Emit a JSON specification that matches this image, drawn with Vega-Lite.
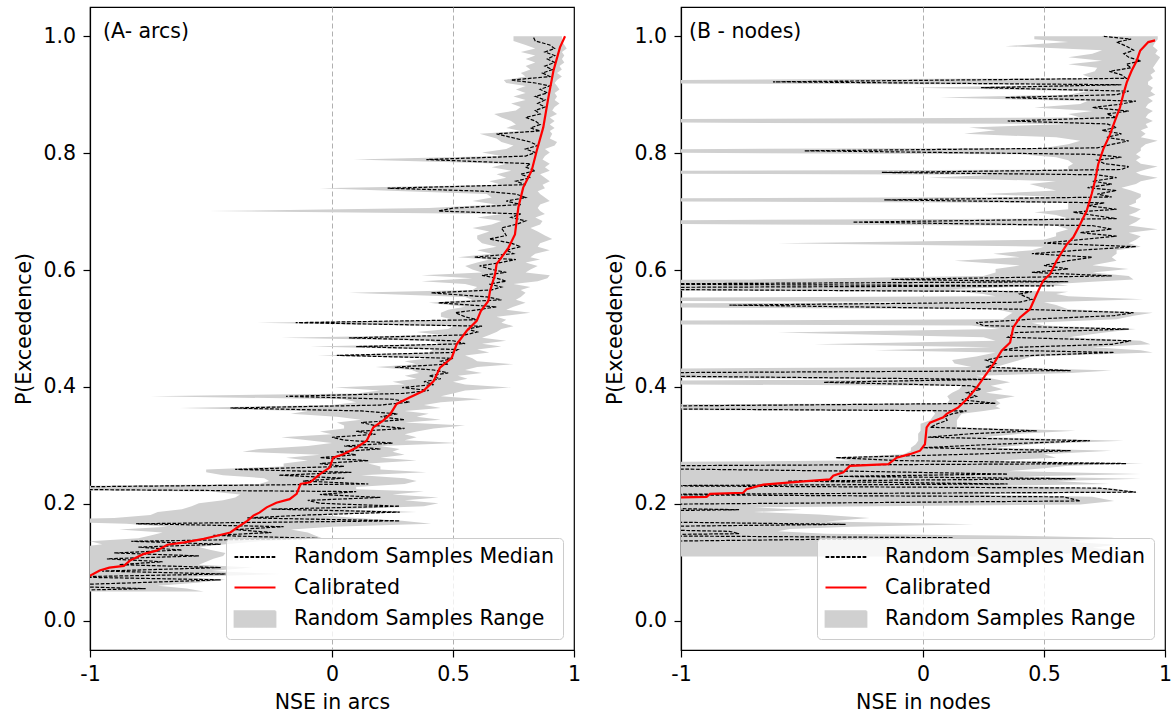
{
  "$schema": "https://vega.github.io/schema/vega-lite/v6.json",
  "padding": {"left": 13, "top": 6, "right": 0, "bottom": 0},
  "bounds": "flush",
  "spacing": 107,
  "datasets": {
    "aCal": [
      {"p":0.070,"c":-1.08},{"p":0.077,"c":-1.0},{"p":0.086,"c":-0.96},{"p":0.091,"c":-0.92},{"p":0.094,"c":-0.86},{"p":0.103,"c":-0.835},{"p":0.114,"c":-0.78},{"p":0.120,"c":-0.725},{"p":0.130,"c":-0.68},{"p":0.134,"c":-0.61},{"p":0.140,"c":-0.53},{"p":0.145,"c":-0.48},{"p":0.151,"c":-0.42},{"p":0.160,"c":-0.39},{"p":0.171,"c":-0.35},{"p":0.180,"c":-0.325},{"p":0.185,"c":-0.30},{"p":0.194,"c":-0.27},{"p":0.202,"c":-0.23},{"p":0.208,"c":-0.175},{"p":0.217,"c":-0.146},{"p":0.234,"c":-0.13},{"p":0.237,"c":-0.09},{"p":0.251,"c":-0.05},{"p":0.262,"c":-0.01},{"p":0.279,"c":0.005},{"p":0.285,"c":0.047},{"p":0.296,"c":0.10},{"p":0.308,"c":0.143},{"p":0.331,"c":0.171},{"p":0.342,"c":0.21},{"p":0.353,"c":0.24},{"p":0.371,"c":0.267},{"p":0.382,"c":0.32},{"p":0.393,"c":0.377},{"p":0.410,"c":0.42},{"p":0.433,"c":0.446},{"p":0.450,"c":0.495},{"p":0.473,"c":0.515},{"p":0.496,"c":0.557},{"p":0.513,"c":0.598},{"p":0.530,"c":0.615},{"p":0.547,"c":0.646},{"p":0.564,"c":0.653},{"p":0.593,"c":0.674},{"p":0.610,"c":0.68},{"p":0.638,"c":0.729},{"p":0.661,"c":0.756},{"p":0.707,"c":0.77},{"p":0.741,"c":0.79},{"p":0.770,"c":0.825},{"p":0.804,"c":0.846},{"p":0.844,"c":0.873},{"p":0.895,"c":0.894},{"p":0.941,"c":0.915},{"p":0.981,"c":0.942},{"p":1.0,"c":0.963}
    ],
    "aBand": [
      {"p":0.050,"m":-1.3,"l":-2.0,"h":-0.53},{"p":0.055,"m":-0.77,"l":-2.0,"h":-0.6},{"p":0.060,"m":-1.2,"l":-2.0,"h":-0.72},{"p":0.065,"m":-0.82,"l":-2.0,"h":-0.56},{"p":0.070,"m":-0.46,"l":-2.0,"h":-0.44},{"p":0.075,"m":-1.1,"l":-1.8,"h":-0.6},{"p":0.080,"m":-0.44,"l":-1.6,"h":-0.21},{"p":0.085,"m":-0.95,"l":-1.5,"h":-0.5},{"p":0.091,"m":-0.46,"l":-1.4,"h":-0.33},{"p":0.096,"m":-0.88,"l":-1.4,"h":-0.55},
      {"p":0.101,"m":-0.7,"l":-1.3,"h":-0.52},{"p":0.106,"m":-0.93,"l":-1.2,"h":-0.49},{"p":0.111,"m":-0.55,"l":-1.1,"h":-0.45},{"p":0.116,"m":-0.9,"l":-1.2,"h":-0.44},{"p":0.121,"m":-0.62,"l":-1.0,"h":-0.5},{"p":0.126,"m":-0.8,"l":-1.05,"h":-0.55},{"p":0.131,"m":-0.46,"l":-0.95,"h":-0.44},{"p":0.136,"m":-0.83,"l":-1.0,"h":-0.3},{"p":0.141,"m":-0.06,"l":-0.8,"h":-0.04},{"p":0.146,"m":-0.49,"l":-0.75,"h":-0.07},
      {"p":0.151,"m":-0.25,"l":-0.7,"h":-0.1},{"p":0.156,"m":-0.4,"l":-0.88,"h":-0.17},{"p":0.161,"m":-0.2,"l":-0.68,"h":0.0},{"p":0.166,"m":-0.81,"l":-0.85,"h":0.41},{"p":0.171,"m":0.28,"l":-1.3,"h":0.29},{"p":0.176,"m":-0.35,"l":-0.9,"h":0.1},{"p":0.181,"m":-0.1,"l":-0.75,"h":-0.05},{"p":0.186,"m":0.28,"l":-0.72,"h":0.35},{"p":0.191,"m":-0.25,"l":-0.62,"h":0.05},{"p":0.196,"m":0.28,"l":-0.58,"h":0.38},
      {"p":0.201,"m":-0.05,"l":-0.55,"h":0.44},{"p":0.206,"m":-0.1,"l":-0.45,"h":0.3},{"p":0.211,"m":0.2,"l":-0.4,"h":0.44},{"p":0.216,"m":-0.05,"l":-0.38,"h":0.25},{"p":0.221,"m":0.1,"l":-0.5,"h":0.38},{"p":0.225,"m":-1.2,"l":-1.5,"h":0.1},{"p":0.229,"m":-1.1,"l":-1.4,"h":0.1},{"p":0.234,"m":0.15,"l":-0.3,"h":0.3},{"p":0.239,"m":-0.12,"l":-0.26,"h":0.35},{"p":0.244,"m":0.05,"l":-0.28,"h":0.3},
      {"p":0.249,"m":-0.22,"l":-0.45,"h":0.12},{"p":0.254,"m":0.08,"l":-0.52,"h":0.39},{"p":0.259,"m":-0.4,"l":-0.52,"h":0.2},{"p":0.264,"m":0.05,"l":-0.2,"h":0.2},{"p":0.269,"m":-0.05,"l":-0.2,"h":0.15},{"p":0.274,"m":0.15,"l":-0.1,"h":0.35},{"p":0.279,"m":-0.05,"l":-0.19,"h":0.2},{"p":0.284,"m":0.1,"l":-0.05,"h":0.3},{"p":0.289,"m":0.02,"l":-0.37,"h":0.25},{"p":0.294,"m":0.2,"l":-0.3,"h":0.28},
      {"p":0.299,"m":0.05,"l":-0.1,"h":0.2},{"p":0.304,"m":0.25,"l":0.0,"h":0.52},{"p":0.309,"m":0.05,"l":-0.1,"h":0.3},{"p":0.314,"m":0.0,"l":-0.21,"h":0.35},{"p":0.319,"m":0.18,"l":0.0,"h":0.3},{"p":0.324,"m":0.1,"l":-0.05,"h":0.35},{"p":0.329,"m":0.3,"l":0.05,"h":0.42},{"p":0.334,"m":0.18,"l":0.05,"h":0.55},{"p":0.339,"m":0.12,"l":0.02,"h":0.3},{"p":0.344,"m":0.3,"l":0.12,"h":0.45},
      {"p":0.349,"m":0.2,"l":0.02,"h":0.35},{"p":0.354,"m":0.27,"l":-0.17,"h":0.4},{"p":0.359,"m":0.12,"l":-0.1,"h":0.3},{"p":0.364,"m":-0.42,"l":-0.63,"h":0.45},{"p":0.369,"m":0.2,"l":0.0,"h":0.38},{"p":0.374,"m":0.32,"l":0.1,"h":0.45},{"p":0.379,"m":0.25,"l":0.05,"h":0.62},{"p":0.384,"m":-0.19,"l":-0.75,"h":0.45},{"p":0.389,"m":0.3,"l":0.1,"h":0.5},{"p":0.394,"m":0.4,"l":0.2,"h":0.55},
      {"p":0.399,"m":0.29,"l":0.01,"h":0.74},{"p":0.404,"m":0.42,"l":0.3,"h":0.55},{"p":0.409,"m":0.38,"l":0.25,"h":0.5},{"p":0.414,"m":0.45,"l":0.35,"h":0.56},{"p":0.419,"m":0.4,"l":0.3,"h":0.52},{"p":0.424,"m":0.48,"l":0.36,"h":0.62},{"p":0.429,"m":0.42,"l":0.33,"h":0.55},{"p":0.434,"m":0.26,"l":0.18,"h":0.6},{"p":0.439,"m":0.48,"l":0.35,"h":0.75},{"p":0.444,"m":0.45,"l":0.3,"h":0.6},
      {"p":0.449,"m":0.5,"l":0.4,"h":0.58},{"p":0.454,"m":0.02,"l":-0.06,"h":0.55},{"p":0.459,"m":0.5,"l":0.4,"h":0.65},{"p":0.464,"m":0.52,"l":0.42,"h":0.6},{"p":0.469,"m":0.1,"l":-0.09,"h":0.7},{"p":0.474,"m":0.55,"l":0.45,"h":0.62},{"p":0.479,"m":0.5,"l":0.4,"h":0.72},{"p":0.484,"m":0.07,"l":-0.21,"h":0.62},{"p":0.489,"m":0.55,"l":0.45,"h":0.65},{"p":0.494,"m":0.6,"l":0.35,"h":0.68},
      {"p":0.499,"m":0.56,"l":0.48,"h":0.7},{"p":0.504,"m":0.62,"l":0.5,"h":0.75},{"p":0.510,"m":-0.15,"l":-0.31,"h":0.7},{"p":0.515,"m":0.6,"l":0.5,"h":0.72},{"p":0.520,"m":0.55,"l":0.45,"h":0.68},{"p":0.527,"m":0.51,"l":0.45,"h":0.82},{"p":0.532,"m":0.6,"l":0.48,"h":0.72},{"p":0.537,"m":0.68,"l":0.55,"h":0.75},{"p":0.544,"m":0.44,"l":0.4,"h":0.8},{"p":0.549,"m":0.7,"l":0.58,"h":0.76},
      {"p":0.554,"m":0.64,"l":0.55,"h":0.78},{"p":0.561,"m":0.41,"l":0.07,"h":0.8},{"p":0.566,"m":0.66,"l":0.58,"h":0.78},{"p":0.571,"m":0.7,"l":0.6,"h":0.82},{"p":0.576,"m":0.65,"l":0.55,"h":0.75},{"p":0.581,"m":0.72,"l":0.37,"h":0.85},{"p":0.586,"m":0.68,"l":0.58,"h":0.89},{"p":0.591,"m":0.62,"l":0.37,"h":0.9},{"p":0.596,"m":0.72,"l":0.62,"h":0.8},{"p":0.601,"m":0.66,"l":0.58,"h":0.82},
      {"p":0.607,"m":0.61,"l":0.55,"h":0.85},{"p":0.613,"m":0.7,"l":0.6,"h":0.8},{"p":0.618,"m":0.76,"l":0.65,"h":0.86},{"p":0.622,"m":0.59,"l":0.52,"h":0.82},{"p":0.628,"m":0.75,"l":0.66,"h":0.84},{"p":0.634,"m":0.72,"l":0.6,"h":0.9},{"p":0.640,"m":0.78,"l":0.68,"h":0.85},{"p":0.646,"m":0.74,"l":0.62,"h":0.86},{"p":0.653,"m":0.65,"l":0.6,"h":0.91},{"p":0.659,"m":0.72,"l":0.6,"h":0.88},
      {"p":0.666,"m":0.71,"l":0.65,"h":0.85},{"p":0.672,"m":0.7,"l":0.58,"h":0.82},{"p":0.678,"m":0.76,"l":0.66,"h":0.86},{"p":0.684,"m":0.8,"l":0.7,"h":0.87},{"p":0.690,"m":0.74,"l":0.6,"h":0.84},{"p":0.696,"m":0.78,"l":0.7,"h":0.88},{"p":0.701,"m":0.44,"l":-0.51,"h":0.86},{"p":0.706,"m":0.5,"l":0.4,"h":0.85},{"p":0.712,"m":0.78,"l":0.68,"h":0.86},{"p":0.718,"m":0.72,"l":0.58,"h":0.9},
      {"p":0.724,"m":0.8,"l":0.66,"h":0.88},{"p":0.730,"m":0.76,"l":0.64,"h":0.86},{"p":0.735,"m":0.62,"l":0.3,"h":0.85},{"p":0.740,"m":0.23,"l":-0.05,"h":0.88},{"p":0.746,"m":0.8,"l":0.7,"h":0.87},{"p":0.752,"m":0.76,"l":0.65,"h":0.9},{"p":0.758,"m":0.82,"l":0.72,"h":0.88},{"p":0.764,"m":0.78,"l":0.68,"h":0.86},{"p":0.770,"m":0.84,"l":0.74,"h":0.9},{"p":0.776,"m":0.8,"l":0.66,"h":0.88},
      {"p":0.782,"m":0.82,"l":0.72,"h":0.9},{"p":0.789,"m":0.39,"l":0.09,"h":0.87},{"p":0.795,"m":0.8,"l":0.7,"h":0.88},{"p":0.801,"m":0.84,"l":0.62,"h":0.9},{"p":0.807,"m":0.8,"l":0.72,"h":0.88},{"p":0.813,"m":0.85,"l":0.75,"h":0.92},{"p":0.819,"m":0.82,"l":0.7,"h":0.93},{"p":0.825,"m":0.76,"l":0.68,"h":0.9},{"p":0.833,"m":0.68,"l":0.61,"h":0.91},{"p":0.838,"m":0.86,"l":0.78,"h":0.9},
      {"p":0.843,"m":0.82,"l":0.72,"h":0.92},{"p":0.849,"m":0.86,"l":0.76,"h":0.9},{"p":0.855,"m":0.84,"l":0.74,"h":0.92},{"p":0.861,"m":0.8,"l":0.7,"h":0.9},{"p":0.867,"m":0.86,"l":0.67,"h":0.93},{"p":0.873,"m":0.84,"l":0.76,"h":0.91},{"p":0.879,"m":0.88,"l":0.78,"h":0.92},{"p":0.885,"m":0.85,"l":0.74,"h":0.94},{"p":0.891,"m":0.88,"l":0.8,"h":0.92},{"p":0.897,"m":0.84,"l":0.75,"h":0.93},
      {"p":0.903,"m":0.89,"l":0.8,"h":0.92},{"p":0.909,"m":0.86,"l":0.76,"h":0.94},{"p":0.915,"m":0.9,"l":0.8,"h":0.93},{"p":0.920,"m":0.84,"l":0.72,"h":0.92},{"p":0.925,"m":0.74,"l":0.71,"h":0.93},{"p":0.931,"m":0.9,"l":0.8,"h":0.95},{"p":0.937,"m":0.87,"l":0.78,"h":0.93},{"p":0.943,"m":0.91,"l":0.82,"h":0.95},{"p":0.949,"m":0.88,"l":0.8,"h":0.94},{"p":0.955,"m":0.92,"l":0.84,"h":0.96},
      {"p":0.961,"m":0.89,"l":0.8,"h":0.95},{"p":0.967,"m":0.92,"l":0.84,"h":0.96},{"p":0.973,"m":0.88,"l":0.78,"h":0.95},{"p":0.979,"m":0.92,"l":0.84,"h":0.97},{"p":0.985,"m":0.9,"l":0.8,"h":0.96},{"p":0.992,"m":0.84,"l":0.75,"h":0.95},{"p":1.0,"m":0.83,"l":0.75,"h":0.95}
    ],
    "bCal": [
      {"p":0.205,"c":-1.1},{"p":0.211,"c":-1.0},{"p":0.212,"c":-0.894},{"p":0.217,"c":-0.88},{"p":0.219,"c":-0.743},{"p":0.225,"c":-0.729},{"p":0.233,"c":-0.66},{"p":0.239,"c":-0.481},{"p":0.242,"c":-0.384},{"p":0.248,"c":-0.371},{"p":0.254,"c":-0.329},{"p":0.265,"c":-0.302},{"p":0.268,"c":-0.143},{"p":0.279,"c":-0.109},{"p":0.285,"c":-0.054},{"p":0.291,"c":-0.012},{"p":0.302,"c":0.008},{"p":0.331,"c":0.015},{"p":0.339,"c":0.029},{"p":0.348,"c":0.084},{"p":0.354,"c":0.098},{"p":0.365,"c":0.146},{"p":0.379,"c":0.181},{"p":0.399,"c":0.222},{"p":0.419,"c":0.256},{"p":0.439,"c":0.291},{"p":0.462,"c":0.325},{"p":0.476,"c":0.36},{"p":0.502,"c":0.373},{"p":0.519,"c":0.401},{"p":0.533,"c":0.442},{"p":0.559,"c":0.47},{"p":0.582,"c":0.497},{"p":0.593,"c":0.525},{"p":0.616,"c":0.552},{"p":0.644,"c":0.594},{"p":0.656,"c":0.621},{"p":0.678,"c":0.649},{"p":0.701,"c":0.676},{"p":0.730,"c":0.697},{"p":0.753,"c":0.711},{"p":0.781,"c":0.724},{"p":0.807,"c":0.745},{"p":0.832,"c":0.773},{"p":0.855,"c":0.793},{"p":0.878,"c":0.814},{"p":0.901,"c":0.828},{"p":0.921,"c":0.842},{"p":0.941,"c":0.862},{"p":0.958,"c":0.883},{"p":0.975,"c":0.897},{"p":0.990,"c":0.931},{"p":0.993,"c":0.959}
    ],
    "bBand": [
      {"p":0.110,"m":-1.5,"l":-3,"h":0.5},{"p":0.115,"m":-1.3,"l":-3,"h":0.6},{"p":0.120,"m":-1.4,"l":-3,"h":0.8},{"p":0.125,"m":-1.2,"l":-3,"h":0.7},{"p":0.130,"m":-1.5,"l":-3,"h":0.8},{"p":0.135,"m":-1.3,"l":-3,"h":0.6},{"p":0.142,"m":0.125,"l":-3,"h":0.79},{"p":0.146,"m":-1.4,"l":-3,"h":0.3},{"p":0.149,"m":-0.76,"l":-3,"h":-0.4},{"p":0.153,"m":-0.8,"l":-3,"h":-0.6},
      {"p":0.157,"m":-1.3,"l":-3,"h":-0.55},{"p":0.161,"m":-1.2,"l":-3,"h":-0.3},{"p":0.165,"m":-0.32,"l":-3,"h":0.21},{"p":0.170,"m":-1.3,"l":-3,"h":-0.4},{"p":0.176,"m":-1.2,"l":-3,"h":-0.22},{"p":0.182,"m":-1.4,"l":-3,"h":-0.43},{"p":0.186,"m":-1.5,"l":-3,"h":-0.7},{"p":0.190,"m":-0.76,"l":-3,"h":-0.5},{"p":0.194,"m":-1.3,"l":-3,"h":-0.7},{"p":0.199,"m":-1.2,"l":-3,"h":0.65},
      {"p":0.205,"m":0.65,"l":-3,"h":0.79},{"p":0.212,"m":0.58,"l":-3,"h":0.7},{"p":0.216,"m":-1.3,"l":-3,"h":0.2},{"p":0.220,"m":0.88,"l":-3,"h":0.89},{"p":0.227,"m":0.73,"l":-3,"h":0.77},{"p":0.231,"m":-1.2,"l":-3,"h":0.3},{"p":0.234,"m":0.35,"l":-3,"h":0.77},{"p":0.239,"m":-0.56,"l":-3,"h":0.55},{"p":0.243,"m":0.63,"l":-3,"h":0.9},{"p":0.247,"m":-0.35,"l":-2.5,"h":0.4},
      {"p":0.251,"m":0.35,"l":-3,"h":0.9},{"p":0.256,"m":-0.3,"l":-2.0,"h":0.35},{"p":0.261,"m":-1.3,"l":-3,"h":0.5},{"p":0.265,"m":-1.2,"l":-3,"h":0.6},{"p":0.269,"m":0.84,"l":-2.0,"h":0.91},{"p":0.274,"m":-0.1,"l":-0.3,"h":0.3},{"p":0.279,"m":-0.36,"l":-0.37,"h":0.55},{"p":0.285,"m":0.2,"l":-0.08,"h":0.5},{"p":0.291,"m":0.61,"l":-0.05,"h":0.78},{"p":0.296,"m":0.0,"l":-0.05,"h":0.3},
      {"p":0.302,"m":0.3,"l":-0.03,"h":0.45},{"p":0.308,"m":0.69,"l":-0.02,"h":0.83},{"p":0.314,"m":0.02,"l":-0.02,"h":0.25},{"p":0.320,"m":0.2,"l":-0.02,"h":0.4},{"p":0.325,"m":0.47,"l":-0.01,"h":0.63},{"p":0.331,"m":0.03,"l":-0.01,"h":0.14},{"p":0.337,"m":0.06,"l":-0.01,"h":0.14},{"p":0.343,"m":0.1,"l":0.03,"h":0.14},{"p":0.349,"m":0.09,"l":0.04,"h":0.15},{"p":0.354,"m":0.12,"l":0.05,"h":0.16},
      {"p":0.359,"m":0.18,"l":0.04,"h":0.25},{"p":0.363,"m":-1.3,"l":-3,"h":0.32},{"p":0.367,"m":-1.2,"l":-3,"h":0.3},{"p":0.372,"m":0.3,"l":0.1,"h":0.32},{"p":0.378,"m":0.16,"l":0.11,"h":0.3},{"p":0.384,"m":0.22,"l":0.1,"h":0.38},{"p":0.390,"m":0.18,"l":0.12,"h":0.26},{"p":0.396,"m":0.24,"l":0.15,"h":0.33},{"p":0.402,"m":0.2,"l":0.16,"h":0.28},{"p":0.408,"m":-0.41,"l":-3,"h":0.36},
      {"p":0.413,"m":0.28,"l":0.15,"h":0.3},{"p":0.419,"m":-1.2,"l":-3,"h":0.22},{"p":0.424,"m":-1.3,"l":-3,"h":0.61},{"p":0.428,"m":0.61,"l":-3,"h":0.78},{"p":0.434,"m":0.26,"l":0.2,"h":0.3},{"p":0.440,"m":0.3,"l":0.13,"h":0.35},{"p":0.446,"m":0.26,"l":0.12,"h":0.4},{"p":0.452,"m":0.33,"l":0.22,"h":0.45},{"p":0.459,"m":0.79,"l":0.3,"h":0.95},{"p":0.463,"m":0.33,"l":-0.2,"h":0.9},
      {"p":0.468,"m":0.4,"l":0.28,"h":0.7},{"p":0.473,"m":0.78,"l":-0.45,"h":0.94},{"p":0.479,"m":0.86,"l":0.3,"h":0.9},{"p":0.485,"m":0.35,"l":0.25,"h":0.6},{"p":0.493,"m":0.38,"l":-0.6,"h":0.75},{"p":0.499,"m":0.85,"l":0.32,"h":0.88},{"p":0.505,"m":0.25,"l":0.2,"h":0.5},{"p":0.510,"m":0.22,"l":-3,"h":0.45},{"p":0.516,"m":0.45,"l":0.33,"h":0.8},{"p":0.522,"m":0.79,"l":0.35,"h":0.87},
      {"p":0.527,"m":0.87,"l":0.37,"h":0.95},{"p":0.533,"m":0.4,"l":0.3,"h":0.6},{"p":0.540,"m":-0.8,"l":-3,"h":0.55},{"p":0.545,"m":0.4,"l":0.35,"h":0.5},{"p":0.550,"m":0.45,"l":-3,"h":0.91},{"p":0.555,"m":0.42,"l":0.3,"h":0.6},{"p":0.559,"m":0.4,"l":0.25,"h":0.55},{"p":0.563,"m":0.45,"l":0.15,"h":0.6},{"p":0.567,"m":-1.2,"l":-3,"h":0.11},{"p":0.570,"m":-1.3,"l":-3,"h":0.3},
      {"p":0.573,"m":0.54,"l":-3,"h":0.6},{"p":0.576,"m":-1.3,"l":-3,"h":0.55},{"p":0.580,"m":0.6,"l":-3,"h":0.7},{"p":0.584,"m":-0.13,"l":-0.71,"h":0.87},{"p":0.590,"m":0.78,"l":0.25,"h":0.85},{"p":0.596,"m":0.45,"l":0.3,"h":0.7},{"p":0.602,"m":0.6,"l":0.3,"h":0.85},{"p":0.608,"m":0.5,"l":0.4,"h":0.7},{"p":0.616,"m":0.6,"l":0.13,"h":0.8},{"p":0.622,"m":0.7,"l":0.4,"h":0.78},
      {"p":0.628,"m":0.45,"l":0.29,"h":0.8},{"p":0.634,"m":0.65,"l":0.45,"h":0.8},{"p":0.640,"m":0.88,"l":0.5,"h":0.9},{"p":0.646,"m":0.5,"l":-0.6,"h":0.85},{"p":0.652,"m":0.65,"l":0.5,"h":0.88},{"p":0.658,"m":0.8,"l":0.55,"h":0.9},{"p":0.664,"m":0.65,"l":0.55,"h":0.85},{"p":0.670,"m":0.78,"l":0.6,"h":0.97},{"p":0.676,"m":0.7,"l":0.55,"h":0.85},{"p":0.682,"m":-0.29,"l":-3,"h":0.88},
      {"p":0.688,"m":0.8,"l":0.6,"h":0.9},{"p":0.694,"m":0.7,"l":0.55,"h":0.85},{"p":0.699,"m":0.62,"l":0.46,"h":0.88},{"p":0.704,"m":0.8,"l":0.6,"h":0.9},{"p":0.710,"m":0.68,"l":0.6,"h":0.85},{"p":0.715,"m":0.75,"l":0.6,"h":0.88},{"p":0.720,"m":-0.16,"l":-3,"h":0.88},{"p":0.725,"m":0.78,"l":0.55,"h":0.9},{"p":0.730,"m":0.72,"l":0.25,"h":0.9},{"p":0.736,"m":0.8,"l":0.55,"h":0.86},
      {"p":0.741,"m":0.68,"l":0.5,"h":0.82},{"p":0.747,"m":0.78,"l":0.44,"h":0.88},{"p":0.752,"m":0.7,"l":0.55,"h":0.9},{"p":0.758,"m":0.8,"l":0.02,"h":0.97},{"p":0.763,"m":0.72,"l":0.3,"h":0.9},{"p":0.767,"m":-0.17,"l":-3,"h":0.88},{"p":0.772,"m":0.82,"l":0.6,"h":0.92},{"p":0.777,"m":0.85,"l":0.6,"h":0.97},{"p":0.782,"m":0.75,"l":0.62,"h":0.9},{"p":0.788,"m":0.72,"l":0.6,"h":0.88},
      {"p":0.793,"m":0.82,"l":0.55,"h":0.9},{"p":0.798,"m":0.7,"l":0.4,"h":0.88},{"p":0.804,"m":-0.49,"l":-3,"h":0.9},{"p":0.809,"m":0.72,"l":0.5,"h":0.9},{"p":0.815,"m":0.78,"l":0.6,"h":0.92},{"p":0.821,"m":0.85,"l":0.65,"h":0.97},{"p":0.827,"m":0.76,"l":0.55,"h":0.9},{"p":0.833,"m":0.82,"l":0.17,"h":0.92},{"p":0.839,"m":0.74,"l":0.3,"h":0.9},{"p":0.844,"m":0.8,"l":0.19,"h":0.93},
      {"p":0.850,"m":0.76,"l":0.6,"h":0.92},{"p":0.855,"m":0.35,"l":-3,"h":0.95},{"p":0.861,"m":0.8,"l":0.65,"h":0.92},{"p":0.867,"m":0.76,"l":0.6,"h":0.93},{"p":0.872,"m":0.85,"l":0.7,"h":0.95},{"p":0.878,"m":0.7,"l":0.46,"h":0.92},{"p":0.884,"m":0.82,"l":0.65,"h":0.93},{"p":0.889,"m":0.88,"l":0.68,"h":0.95},{"p":0.895,"m":0.34,"l":0.07,"h":0.93},{"p":0.900,"m":0.8,"l":0.6,"h":0.96},
      {"p":0.906,"m":0.85,"l":0.68,"h":0.94},{"p":0.912,"m":0.24,"l":-0.04,"h":0.95},{"p":0.917,"m":0.82,"l":0.6,"h":0.93},{"p":0.922,"m":-0.62,"l":-3,"h":0.93},{"p":0.928,"m":0.84,"l":0.7,"h":0.95},{"p":0.934,"m":0.82,"l":0.66,"h":0.94},{"p":0.940,"m":0.77,"l":0.71,"h":0.96},{"p":0.946,"m":0.86,"l":0.72,"h":0.95},{"p":0.952,"m":0.84,"l":0.6,"h":0.96},{"p":0.958,"m":0.9,"l":0.74,"h":0.97},
      {"p":0.964,"m":0.85,"l":0.6,"h":0.98},{"p":0.970,"m":0.83,"l":0.7,"h":0.96},{"p":0.976,"m":0.87,"l":0.74,"h":0.97},{"p":0.983,"m":0.84,"l":0.34,"h":0.95},{"p":0.990,"m":0.8,"l":0.6,"h":0.96},{"p":0.995,"m":0.86,"l":0.46,"h":0.97},{"p":1.0,"m":0.74,"l":0.46,"h":0.97}
    ]
  },
  "hconcat": [
    {
      "width": 484,
      "height": 643,
      "layer": [
        {
          "data": {"name": "aBand"},
          "mark": {"type": "area", "orient": "horizontal", "clip": true},
          "encoding": {
            "y": {"field": "p", "type": "quantitative", "scale": {"domain": [-0.05, 1.05], "nice": false, "zero": false},
                  "axis": {"title": "P(Exceedence)", "values": [0, 0.2, 0.4, 0.6, 0.8, 1.0], "format": ".1f", "minExtent": 47, "maxExtent": 47, "titlePadding": 9}},
            "x": {"field": "l", "type": "quantitative", "scale": {"domain": [-1, 1], "nice": false, "zero": false},
                  "axis": {"title": "NSE in arcs", "values": [-1, 0, 0.5, 1], "labelExpr": "'' + datum.value", "labelFlush": false, "grid": true, "gridDash": [5, 3], "gridColor": "#b0b0b0", "gridWidth": 1, "gridOpacity": {"condition": {"test": "abs(datum.value) == 1", "value": 0}, "value": 1}, "titlePadding": 7}},
            "x2": {"field": "h"},
            "color": {"datum": "Random Samples Range",
                      "scale": {"domain": ["Random Samples Median", "Calibrated", "Random Samples Range"], "range": ["black", "red", "#d0d0d0"]},
                      "legend": {"title": null}}
          }
        },
        {
          "data": {"name": "aBand"},
          "mark": {"type": "line", "clip": true, "strokeWidth": 1.2},
          "encoding": {
            "y": {"field": "p", "type": "quantitative"},
            "x": {"field": "m", "type": "quantitative"},
            "order": {"field": "p", "type": "quantitative"},
            "color": {"datum": "Random Samples Median"},
            "strokeDash": {"datum": "Random Samples Median",
                           "scale": {"domain": ["Random Samples Median", "Calibrated", "Random Samples Range"], "range": [[3.7, 1.6], [1, 0], [1, 0]]},
                           "legend": {"title": null}}
          }
        },
        {
          "data": {"name": "aCal"},
          "mark": {"type": "line", "clip": true, "strokeWidth": 2.2},
          "encoding": {
            "y": {"field": "p", "type": "quantitative"},
            "x": {"field": "c", "type": "quantitative"},
            "order": {"field": "p", "type": "quantitative"},
            "color": {"datum": "Calibrated"}
          }
        },
        {
          "data": {"values": [{"label": "(A- arcs)"}]},
          "mark": {"type": "point", "size": 0, "filled": true},
          "encoding": {"x": {"datum": 0}, "y": {"datum": 0},
            "shape": {"datum": "Random Samples Range",
                      "scale": {"domain": ["Random Samples Median", "Calibrated", "Random Samples Range"], "range": ["M-2.05,0L2.05,0", "M-2.05,0L2.05,0", "M-2.05,-0.78L2.05,-0.78L2.05,0.78L-2.05,0.78Z"]},
                      "legend": {"title": null}}}
        },
        {
          "data": {"values": [{"label": "(A- arcs)"}]},
          "mark": {"type": "text", "align": "left", "baseline": "middle", "fontSize": 20.5, "font": "DejaVu Sans", "fill": "black"},
          "encoding": {"x": {"datum": -0.946}, "y": {"datum": 1.007}, "text": {"field": "label"}}
        }
      ]
    },
    {
      "width": 484,
      "height": 643,
      "layer": [
        {
          "data": {"name": "bBand"},
          "mark": {"type": "area", "orient": "horizontal", "clip": true},
          "encoding": {
            "y": {"field": "p", "type": "quantitative", "scale": {"domain": [-0.05, 1.05], "nice": false, "zero": false},
                  "axis": {"title": "P(Exceedence)", "values": [0, 0.2, 0.4, 0.6, 0.8, 1.0], "format": ".1f", "minExtent": 47, "maxExtent": 47, "titlePadding": 9}},
            "x": {"field": "l", "type": "quantitative", "scale": {"domain": [-1, 1], "nice": false, "zero": false},
                  "axis": {"title": "NSE in nodes", "values": [-1, 0, 0.5, 1], "labelExpr": "'' + datum.value", "labelFlush": false, "grid": true, "gridDash": [5, 3], "gridColor": "#b0b0b0", "gridWidth": 1, "gridOpacity": {"condition": {"test": "abs(datum.value) == 1", "value": 0}, "value": 1}, "titlePadding": 7}},
            "x2": {"field": "h"},
            "color": {"datum": "Random Samples Range",
                      "scale": {"domain": ["Random Samples Median", "Calibrated", "Random Samples Range"], "range": ["black", "red", "#d0d0d0"]},
                      "legend": {"title": null}}
          }
        },
        {
          "data": {"name": "bBand"},
          "mark": {"type": "line", "clip": true, "strokeWidth": 1.2},
          "encoding": {
            "y": {"field": "p", "type": "quantitative"},
            "x": {"field": "m", "type": "quantitative"},
            "order": {"field": "p", "type": "quantitative"},
            "color": {"datum": "Random Samples Median"},
            "strokeDash": {"datum": "Random Samples Median",
                           "scale": {"domain": ["Random Samples Median", "Calibrated", "Random Samples Range"], "range": [[3.7, 1.6], [1, 0], [1, 0]]},
                           "legend": {"title": null}}
          }
        },
        {
          "data": {"name": "bCal"},
          "mark": {"type": "line", "clip": true, "strokeWidth": 2.2},
          "encoding": {
            "y": {"field": "p", "type": "quantitative"},
            "x": {"field": "c", "type": "quantitative"},
            "order": {"field": "p", "type": "quantitative"},
            "color": {"datum": "Calibrated"}
          }
        },
        {
          "data": {"values": [{"label": "(B - nodes)"}]},
          "mark": {"type": "point", "size": 0, "filled": true},
          "encoding": {"x": {"datum": 0}, "y": {"datum": 0},
            "shape": {"datum": "Random Samples Range",
                      "scale": {"domain": ["Random Samples Median", "Calibrated", "Random Samples Range"], "range": ["M-2.05,0L2.05,0", "M-2.05,0L2.05,0", "M-2.05,-0.78L2.05,-0.78L2.05,0.78L-2.05,0.78Z"]},
                      "legend": {"title": null}}}
        },
        {
          "data": {"values": [{"label": "(B - nodes)"}]},
          "mark": {"type": "text", "align": "left", "baseline": "middle", "fontSize": 20.5, "font": "DejaVu Sans", "fill": "black"},
          "encoding": {"x": {"datum": -0.967}, "y": {"datum": 1.007}, "text": {"field": "label"}}
        }
      ]
    }
  ],
  "resolve": {
    "scale": {"color": "independent", "strokeDash": "independent", "shape": "independent"},
    "legend": {"color": "independent", "strokeDash": "independent", "shape": "independent"}
  },
  "config": {
    "font": "DejaVu Sans",
    "background": "white",
    "view": {"stroke": "black", "strokeWidth": 1.2},
    "axis": {"labelFont": "DejaVu Sans", "labelFontSize": 20.5, "labelColor": "black", "titleFont": "DejaVu Sans", "titleFontSize": 20.5, "titleFontWeight": "normal", "titleColor": "black", "tickColor": "black", "tickSize": 7, "tickWidth": 1.2, "domainColor": "black", "domainWidth": 1.2, "labelPadding": 7.5, "zindex": 1, "grid": false},
    "legend": {"orient": "bottom-right", "offset": 11, "padding": 8, "fillColor": "rgba(255,255,255,0.8)", "strokeColor": "#cccccc", "cornerRadius": 4, "labelFont": "DejaVu Sans", "labelFontSize": 20.5, "labelColor": "black", "labelLimit": 400, "labelOffset": 28, "rowPadding": 8.5, "symbolSize": 400, "symbolOffset": 10, "symbolStrokeWidth": 1.8}
  }
}
